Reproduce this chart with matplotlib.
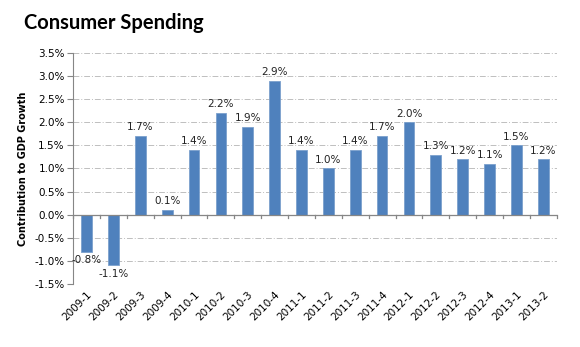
import matplotlib.pyplot as plt
from matplotlib.ticker import MultipleLocator, FuncFormatter
import numpy as np

quarters = ['2009-1', '2009-2', '2009-3', '2009-4', '2010-1', '2010-2', '2010-3',
            '2010-4', '2011-1', '2011-2', '2011-3', '2011-4', '2012-1', '2012-2',
            '2012-3', '2012-4', '2013-1', '2013-2']
contribution = [-0.8, -1.1, 1.7, 0.1, 1.4, 2.2, 1.9, 2.9, 1.4, 1.0, 1.4, 1.7,
                2.0, 1.3, 1.2, 1.1, 1.5, 1.2]

fig = plt.figure(figsize=(5.8, 3.47), dpi=100)
ax = fig.add_axes([0.126, 0.182, 0.834, 0.665])

x = np.arange(len(quarters))
ax.bar(x, contribution, width=0.4, color='#4F81BD', edgecolor='#7BA0CD',
       linewidth=0.6, zorder=3)

# value labels above positive bars, below negative ones
for xi, v in zip(x, contribution):
    if v >= 0:
        ax.text(xi, v + 0.08, f'{v:.1f}%', ha='center', va='bottom',
                fontsize=7.5, color='#222222')
    else:
        ax.text(xi, v - 0.08, f'{v:.1f}%', ha='center', va='top',
                fontsize=7.5, color='#222222')

ax.set_xlim(-0.5, len(quarters) - 0.5)
ax.set_ylim(-1.5, 3.5)
ax.yaxis.set_major_locator(MultipleLocator(0.5))
ax.yaxis.set_major_formatter(FuncFormatter(lambda v, p: f'{v:.1f}%'))
ax.tick_params(axis='y', labelsize=7.5, length=4, color='#868686', pad=2)
ax.grid(axis='y', color='#BFBFBF', linestyle=(0, (6, 2, 1, 2)), linewidth=0.7, zorder=0)

for s in ['top', 'right', 'bottom']:
    ax.spines[s].set_visible(False)
ax.spines['left'].set_color('#868686')

# zero line with category separators
ax.axhline(0, color='#868686', linewidth=0.9, zorder=4)
for b in np.arange(-0.5, len(quarters), 1.0):
    ax.plot([b, b], [0, -0.08], color='#868686', linewidth=0.9, zorder=4,
            clip_on=False)

ax.set_xticks(x)
ax.set_xticklabels(quarters, rotation=45, ha='right', rotation_mode='anchor',
                   fontsize=7.5)
ax.tick_params(axis='x', length=0, pad=4)

ax.set_ylabel('Contribution to GDP Growth', fontsize=7, fontweight='bold',
              labelpad=5)

fig.text(0.041, 0.935, 'Consumer Spending', fontsize=14.5, fontweight='bold',
         family='Lato', va='center')

fig.savefig('out.png', dpi=100)
